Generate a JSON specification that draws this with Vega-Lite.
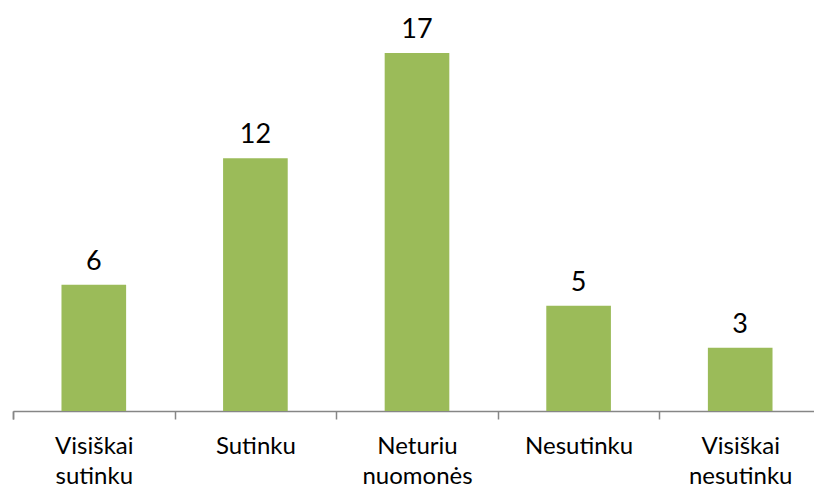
{
  "$schema": "https://vega.github.io/schema/vega-lite/v6.json",
  "width": 808,
  "height": 379,
  "autosize": {"type": "none"},
  "padding": {"left": 13, "top": 32, "right": 0, "bottom": 80},
  "background": "white",
  "data": {
    "values": [
      {"kategorija": "Visiškai sutinku", "reiksme": 6},
      {"kategorija": "Sutinku", "reiksme": 12},
      {"kategorija": "Neturiu nuomonės", "reiksme": 17},
      {"kategorija": "Nesutinku", "reiksme": 5},
      {"kategorija": "Visiškai nesutinku", "reiksme": 3}
    ]
  },
  "config": {"view": {"stroke": null}},
  "encoding": {
    "x": {
      "field": "kategorija",
      "type": "nominal",
      "sort": null,
      "scale": {"paddingInner": 0.6, "paddingOuter": 0.3},
      "axis": {
        "title": null,
        "labelAngle": 0,
        "labelExpr": "split(datum.label, ' ')",
        "labelFont": "Lato",
        "labelFontSize": 24,
        "labelColor": "#000000",
        "labelLineHeight": 30,
        "labelBaseline": "top",
        "labelAlign": "center",
        "labelOffset": 48.5,
        "labelPadding": 15,
        "labelLimit": 0,
        "bandPosition": 0,
        "tickExtra": true,
        "tickOffset": -48.5,
        "tickSize": 8,
        "tickColor": "#868686",
        "domainColor": "#868686",
        "tickWidth": 1.5,
        "domainWidth": 1.5
      }
    },
    "y": {
      "field": "reiksme",
      "type": "quantitative",
      "scale": {"domain": [0, 18]},
      "axis": null
    }
  },
  "layer": [
    {"mark": {"type": "bar", "color": "#9BBB59"}},
    {
      "mark": {
        "type": "text",
        "baseline": "alphabetic",
        "dy": -15,
        "font": "Lato",
        "fontSize": 27,
        "color": "#000000"
      },
      "encoding": {"text": {"field": "reiksme", "type": "quantitative"}}
    }
  ]
}
